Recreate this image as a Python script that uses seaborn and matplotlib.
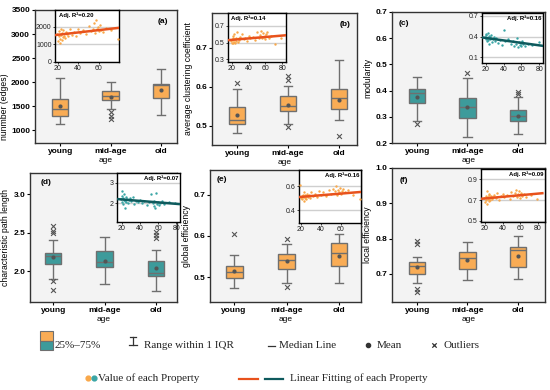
import seaborn as sns
import matplotlib.pyplot as plt
import pandas as pd
from matplotlib.patches import Rectangle

groups = ['young', 'mid-age', 'old']

# boxes: low whisker, Q1, median, Q3, high whisker
edges_box = [[1140, 1292, 1452, 1654, 2090], [1450, 1625, 1710, 1813, 2008], [1327, 1674, 1938, 1973, 2280]]
edges_mean = [1500, 1688, 1850]
edges_out_grp = ['mid-age', 'mid-age', 'mid-age']
edges_out_val = [1380, 1306, 1240]

clust_box = [[0.481, 0.503, 0.514, 0.548, 0.593], [0.505, 0.537, 0.550, 0.576, 0.602], [0.514, 0.542, 0.570, 0.593, 0.669]]
clust_mean = [0.527, 0.554, 0.567]
clust_out_grp = ['young', 'mid-age', 'mid-age', 'mid-age', 'old']
clust_out_val = [0.609, 0.629, 0.617, 0.496, 0.474]

modul_box = [[0.285, 0.351, 0.389, 0.408, 0.452], [0.223, 0.296, 0.338, 0.370, 0.450], [0.234, 0.285, 0.302, 0.325, 0.376]]
modul_mean = [0.376, 0.338, 0.303]
modul_out_grp = ['young', 'mid-age', 'old', 'old']
modul_out_val = [0.271, 0.469, 0.395, 0.387]

path_box = [[1.90, 2.097, 2.205, 2.24, 2.405], [1.84, 2.05, 2.12, 2.27, 2.45], [1.74, 1.94, 1.98, 2.14, 2.28]]
path_mean = [2.18, 2.14, 2.04]
path_out_grp = ['young', 'young', 'young', 'young', 'young', 'old', 'old', 'old']
path_out_val = [2.59, 2.52, 2.50, 1.88, 1.76, 2.51, 2.47, 2.44]

geff_box = [[0.474, 0.498, 0.512, 0.528, 0.555], [0.486, 0.520, 0.543, 0.557, 0.581], [0.487, 0.528, 0.558, 0.582, 0.605]]
geff_mean = [0.516, 0.539, 0.552]
geff_out_grp = ['young', 'mid-age', 'mid-age']
geff_out_val = [0.606, 0.593, 0.477]

leff_box = [[0.673, 0.698, 0.721, 0.734, 0.748], [0.681, 0.715, 0.744, 0.763, 0.791], [0.685, 0.719, 0.768, 0.775, 0.806]]
leff_mean = [0.719, 0.739, 0.751]
leff_out_grp = ['young', 'young', 'young', 'young']
leff_out_val = [0.794, 0.784, 0.657, 0.647]

# inset scatter: age of each subject and the property values
ages = [19, 20, 21, 21, 22, 22, 23, 23, 24, 24, 25, 25, 26, 27, 28, 29, 30, 32, 34, 36,
        38, 40, 42, 45, 48, 50, 52, 54, 55, 56, 57, 58, 59, 60, 61, 62, 64, 67, 72, 79]
edges_pts = [1600, 1200, 1450, 1750, 1100, 1300, 1900, 1550, 1250, 1650, 1400, 1800, 1500, 1350, 1700, 1600, 1450, 1850, 1550, 1700,
             1500, 1900, 1650, 1800, 1600, 2050, 1750, 1900, 2200, 1650, 2400, 1850, 2000, 1750, 2100, 1800, 1700, 1950, 1800, 1300]
clust_pts = [0.52, 0.50, 0.55, 0.58, 0.49, 0.53, 0.60, 0.51, 0.54, 0.50, 0.56, 0.52, 0.63, 0.51, 0.55, 0.53, 0.57, 0.60, 0.54, 0.56,
             0.52, 0.58, 0.55, 0.57, 0.53, 0.62, 0.56, 0.59, 0.64, 0.55, 0.61, 0.57, 0.58, 0.54, 0.60, 0.63, 0.56, 0.58, 0.48, 0.55]
modul_pts = [0.40, 0.44, 0.36, 0.42, 0.33, 0.38, 0.45, 0.35, 0.41, 0.30, 0.39, 0.37, 0.43, 0.32, 0.36, 0.40, 0.34, 0.38, 0.31, 0.35,
             0.28, 0.50, 0.33, 0.36, 0.29, 0.34, 0.27, 0.30, 0.38, 0.25, 0.32, 0.28, 0.31, 0.26, 0.33, 0.29, 0.27, 0.30, 0.28, 0.32]
path_pts = [2.20, 2.35, 2.05, 2.60, 1.95, 2.25, 2.15, 2.45, 2.10, 1.80, 2.30, 2.05, 2.20, 2.00, 2.15, 2.25, 2.10, 2.30, 1.95, 2.10,
            2.05, 2.15, 2.00, 2.10, 1.90, 2.05, 2.45, 2.00, 1.85, 2.10, 1.80, 2.50, 1.95, 2.05, 1.90, 2.00, 2.10, 1.95, 2.05, 2.00]
geff_pts = [0.61, 0.50, 0.52, 0.49, 0.53, 0.51, 0.55, 0.48, 0.50, 0.53, 0.52, 0.49, 0.54, 0.51, 0.53, 0.50, 0.55, 0.52, 0.54, 0.51,
            0.56, 0.53, 0.55, 0.52, 0.57, 0.54, 0.58, 0.56, 0.60, 0.53, 0.57, 0.55, 0.59, 0.54, 0.56, 0.58, 0.55, 0.57, 0.53, 0.49]
leff_pts = [0.72, 0.68, 0.74, 0.70, 0.79, 0.66, 0.73, 0.71, 0.75, 0.69, 0.72, 0.76, 0.70, 0.74, 0.71, 0.73, 0.75, 0.72, 0.77, 0.70,
            0.74, 0.76, 0.73, 0.75, 0.71, 0.78, 0.74, 0.77, 0.80, 0.73, 0.76, 0.79, 0.75, 0.72, 0.77, 0.74, 0.76, 0.73, 0.75, 0.71]

# linear fits (end points) and adjusted R2
fit_age = [15, 85]
edges_fit = [1510, 1975]
clust_fit = [0.528, 0.587]
modul_fit = [0.39, 0.265]
path_fit = [2.21, 1.96]
geff_fit = [0.508, 0.557]
leff_fit = [0.713, 0.767]
adj_r2 = ['0.20', '0.14', '0.16', '0.07', '0.16', '0.09']

ORANGE = '#f9ac55'
TEAL = '#3d9b9b'
PT_OR = '#f9a84a'
PT_TE = '#3aa6a6'
FIT_OR = '#e8521c'
FIT_TE = '#0e5a5d'
GRAY = '#6f6f6f'

plt.rcParams['font.family'] = ['Liberation Sans', 'DejaVu Sans']

W, H = 550, 390
fig = plt.figure(figsize=(5.5, 3.9), dpi=100)


def rect(l, t, r, b):
    return [l / W, 1 - b / H, (r - l) / W, (b - t) / H]


panels = [
    dict(box=edges_box, mean=edges_mean, og=edges_out_grp, ov=edges_out_val, pts=edges_pts, fit=edges_fit,
         ylabel='nunmber (edges)', lxy=(-0.18, 0.27), tag='(a)', col=ORANGE, pc=PT_OR, fc=FIT_OR,
         pos=(35, 10, 177, 143), xlim=(-0.5, 2.32), ylim=(740, 3500), yt=[1000, 1500, 2000, 2500, 3000, 3500],
         tagxy=(0.9, 0.91), ins=(55, 10, 119, 62), ixl=(17.5, 79.5), iyl=(0, 2950), iyt=[0, 1000, 2000],
         ixt=[20, 40, 60], r2left=True),
    dict(box=clust_box, mean=clust_mean, og=clust_out_grp, ov=clust_out_val, pts=clust_pts, fit=clust_fit,
         ylabel='average clustering coefficient', lxy=None, tag='(b)', col=ORANGE, pc=PT_OR, fc=FIT_OR,
         pos=(212, 13, 357, 145), xlim=(-0.5, 2.36), ylim=(0.45, 0.79), yt=[0.5, 0.6, 0.7],
         tagxy=(0.92, 0.91), ins=(228, 13, 286, 62), ixl=(15.5, 84.5), iyl=(0.27, 0.85), iyt=[0.3, 0.5, 0.7],
         ixt=[20, 40, 60, 80], r2left=True),
    dict(box=modul_box, mean=modul_mean, og=modul_out_grp, ov=modul_out_val, pts=modul_pts, fit=modul_fit,
         ylabel='modularity', lxy=None, tag='(c)', col=TEAL, pc=PT_TE, fc=FIT_TE,
         pos=(392, 12, 545, 143), xlim=(-0.5, 2.54), ylim=(0.2, 0.7), yt=[0.2, 0.3, 0.4, 0.5, 0.6, 0.7],
         tagxy=(0.08, 0.91), ins=(482, 13, 543, 63), ixl=(16, 84), iyl=(0.02, 0.74), iyt=[0.1, 0.4, 0.7],
         ixt=[20, 40, 60, 80], r2left=False),
    dict(box=path_box, mean=path_mean, og=path_out_grp, ov=path_out_val, pts=path_pts, fit=path_fit,
         ylabel='characteristic path length', lxy=None, tag='(d)', col=TEAL, pc=PT_TE, fc=FIT_TE,
         pos=(30, 173, 177, 302), xlim=(-0.45, 2.41), ylim=(1.6, 3.28), yt=[2.0, 2.5, 3.0],
         tagxy=(0.11, 0.93), ins=(117, 173, 180, 222), ixl=(15, 84), iyl=(1.1, 3.47), iyt=[2.0, 3.0],
         ixt=[20, 40, 60, 80], r2left=False),
    dict(box=geff_box, mean=geff_mean, og=geff_out_grp, ov=geff_out_val, pts=geff_pts, fit=geff_fit,
         ylabel='global efficiency', lxy=None, tag='(e)', col=ORANGE, pc=PT_OR, fc=FIT_OR,
         pos=(210, 170, 361, 302), xlim=(-0.46, 2.42), ylim=(0.44, 0.76), yt=[0.5, 0.6, 0.7],
         tagxy=(0.08, 0.93), ins=(299, 170, 361, 223), ixl=(18.3, 80.3), iyl=(0.29, 0.74), iyt=[0.4, 0.6],
         ixt=[20, 40, 60], r2left=False),
    dict(box=leff_box, mean=leff_mean, og=leff_out_grp, ov=leff_out_val, pts=leff_pts, fit=leff_fit,
         ylabel='local efficiency', lxy=None, tag='(f)', col=ORANGE, pc=PT_OR, fc=FIT_OR,
         pos=(392, 168, 545, 302), xlim=(-0.5, 2.54), ylim=(0.62, 1.0), yt=[0.7, 0.8, 0.9, 1.0],
         tagxy=(0.08, 0.91), ins=(481, 169, 545, 222), ixl=(15.5, 88), iyl=(0.49, 1.0), iyt=[0.5, 0.7, 0.9],
         ixt=[20, 40, 60, 80], r2left=False),
]

# full-figure axes in pixel units for the legend at the bottom
leg = fig.add_axes([0, 0, 1, 1])
leg.set_xlim(0, W)
leg.set_ylim(H, 0)
leg.axis('off')

for i, p in enumerate(panels):
    ax = fig.add_axes(rect(*p['pos']))
    ax.set_facecolor('#f3f3f3')
    df = pd.DataFrame({'age': [g for g, b in zip(groups, p['box']) for _ in b],
                       'value': [v for b in p['box'] for v in b]})
    sns.boxplot(data=df, x='age', y='value', order=groups, ax=ax, color=p['col'], saturation=1,
                whis=(0, 100), width=0.32, linecolor=GRAY, linewidth=1, showfliers=False)
    sns.stripplot(x=groups, y=p['mean'], order=groups, ax=ax, jitter=False, color='#555555',
                  size=3, linewidth=0, zorder=5)
    sns.stripplot(x=p['og'], y=p['ov'], order=groups, ax=ax, jitter=False, color='#555555',
                  marker='x', size=3.5, linewidth=0.8, zorder=5)
    ax.set_xlim(*p['xlim'])
    ax.set_ylim(*p['ylim'])
    ax.set_yticks(p['yt'])
    ax.set_yticklabels([f'{v:g}' if v >= 100 else f'{v:.1f}' for v in p['yt']])
    ax.set_xlabel('age', fontsize=6, labelpad=1.5)
    ax.set_ylabel(p['ylabel'], fontsize=6.2, labelpad=2)
    if p['lxy'] is not None:
        ax.yaxis.set_label_coords(*p['lxy'])
    ax.tick_params(labelsize=6, length=2, width=0.8, pad=1.5)
    for lab in ax.get_xticklabels() + ax.get_yticklabels():
        lab.set_fontweight('bold')
    for s in ax.spines.values():
        s.set_color('#333333')
        s.set_linewidth(1)
    ax.text(*p['tagxy'], p['tag'], transform=ax.transAxes, fontsize=6, fontweight='bold',
            ha='center', va='center')

    ai = fig.add_axes(rect(*p['ins']))
    ai.set_facecolor('white')
    ai.grid(axis='y', color='#cfcfcf', lw=1)
    ai.set_axisbelow(True)
    sns.scatterplot(x=ages, y=p['pts'], ax=ai, color=p['pc'], s=3, linewidth=0, zorder=3)
    sns.lineplot(x=fit_age, y=p['fit'], ax=ai, color=p['fc'], lw=1.8, zorder=4)
    ai.set_xlim(*p['ixl'])
    ai.set_ylim(*p['iyl'])
    ai.set_yticks(p['iyt'])
    ai.set_xticks(p['ixt'])
    ai.tick_params(labelsize=5, length=1.5, width=0.6, pad=1, colors='#222222')
    ai.set_xlabel('')
    ai.set_ylabel('')
    for s in ai.spines.values():
        s.set_color('black')
        s.set_linewidth(1)
    if p['r2left']:
        ai.text(0.06, 0.95, f'Adj. R²={adj_r2[i]}', transform=ai.transAxes, fontsize=4.3,
                fontweight='bold', ha='left', va='top')
    else:
        ai.text(0.97, 0.95, f'Adj. R²={adj_r2[i]}', transform=ai.transAxes, fontsize=4.3,
                fontweight='bold', ha='right', va='top')

# legend, row 1
serif = dict(family='Liberation Serif', fontsize=8, va='center', color='#222222')
leg.add_patch(Rectangle((40, 331), 13, 9.5, fc=ORANGE, ec=GRAY, lw=0.8))
leg.add_patch(Rectangle((40, 340.5), 13, 9.5, fc=TEAL, ec=GRAY, lw=0.8))
leg.text(55, 346, '25%–75%', **serif)
leg.plot([133, 133], [337, 345], color='#333333', lw=0.9)
leg.plot([130, 136], [337, 337], color='#333333', lw=0.9)
leg.plot([129, 137], [345, 345], color='#333333', lw=0.9)
leg.text(144, 346, 'Range within 1 IQR', **serif)
leg.plot([268, 275], [346, 346], color='#333333', lw=0.9)
leg.text(279, 346, 'Median Line', **serif)
leg.scatter([368], [345], s=9, color='#333333')
leg.text(377, 346, 'Mean', **serif)
leg.scatter([434], [345], s=10, marker='x', color='#333333', linewidths=0.9)
leg.text(444, 346, 'Outliers', **serif)
# legend, row 2
leg.scatter([88], [378], s=12, color=PT_OR)
leg.scatter([94], [378], s=12, color=PT_TE)
leg.text(98, 378, 'Value of each Property', **serif)
leg.plot([239, 258], [378.5, 378.5], color=FIT_OR, lw=1.6)
leg.plot([265, 283], [378.5, 378.5], color=FIT_TE, lw=1.6)
leg.text(290, 378, 'Linear Fitting of each Property', **serif)

fig.savefig('out.png', dpi=100)
